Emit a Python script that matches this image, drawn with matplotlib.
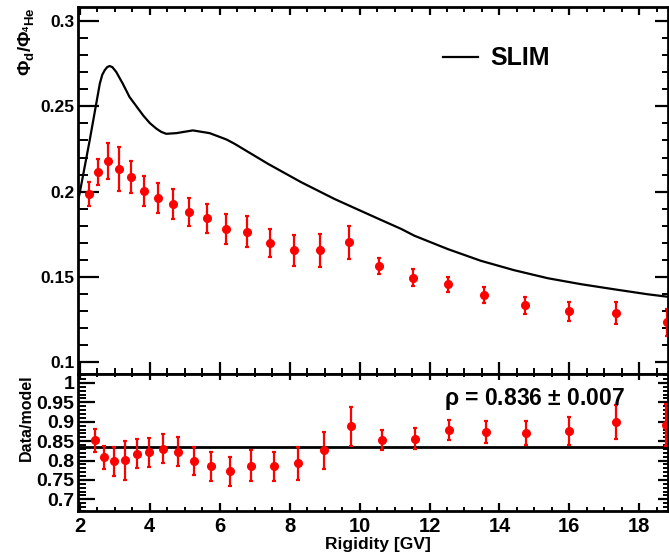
import numpy as np
import matplotlib
matplotlib.use("Agg")
import matplotlib.pyplot as plt
from matplotlib.ticker import MultipleLocator

plt.rcParams['font.family'] = ['Liberation Sans', 'DejaVu Sans']
plt.rcParams['font.weight'] = 'bold'
plt.rcParams['axes.labelweight'] = 'bold'
plt.rcParams['mathtext.fontset'] = 'custom'
plt.rcParams['mathtext.rm'] = 'Liberation Sans:bold'
plt.rcParams['mathtext.it'] = 'Liberation Sans:bold'
plt.rcParams['mathtext.bf'] = 'Liberation Sans:bold'

# d / 4He flux ratio (data points)
rig_data = [2.27, 2.53, 2.81, 3.13, 3.47, 3.84, 4.24, 4.67, 5.13, 5.64, 6.19, 6.79,
            7.44, 8.13, 8.87, 9.70, 10.56, 11.53, 12.53, 13.56, 14.73, 15.99, 17.33, 18.79]
ratio_data = [0.1984, 0.2114, 0.2180, 0.2133, 0.2084, 0.2004, 0.1963, 0.1927, 0.1880, 0.1845,
              0.1780, 0.1765, 0.1700, 0.1655, 0.1655, 0.1702, 0.1564, 0.1494, 0.1457, 0.1392,
              0.1333, 0.1298, 0.1286, 0.1233]
ratio_err = [0.0070, 0.0078, 0.0106, 0.0130, 0.0094, 0.0090, 0.0090, 0.0088, 0.0084, 0.0085,
             0.0086, 0.0090, 0.0082, 0.0090, 0.0096, 0.0098, 0.0048, 0.0050, 0.0045, 0.0046,
             0.0049, 0.0055, 0.0064, 0.0078]

# SLIM model curve
rig_model = [1.96, 1.99, 2.28, 2.57, 2.64, 2.71, 2.78, 2.85, 2.93, 3.04, 3.23, 3.42, 3.81,
             4.00, 4.19, 4.33, 4.47, 4.76, 5.23, 5.71, 6.19, 6.42, 6.90, 7.38, 8.33, 9.28,
             10.23, 10.61, 11.19, 11.57, 12.52, 13.47, 14.42, 15.38, 16.33, 17.28, 18.23, 18.86]
ratio_model = [0.1960, 0.1986, 0.2300, 0.2633, 0.2685, 0.2712, 0.2730, 0.2737, 0.2730, 0.2702,
               0.2632, 0.2555, 0.2447, 0.2402, 0.2369, 0.2350, 0.2339, 0.2343, 0.2359, 0.2343,
               0.2306, 0.2281, 0.2222, 0.2163, 0.2055, 0.1957, 0.1869, 0.1834, 0.1781, 0.1741,
               0.1663, 0.1594, 0.1539, 0.1492, 0.1457, 0.1427, 0.1398, 0.1382]

# data / model
rig_dm = [2.44, 2.69, 2.98, 3.28, 3.62, 3.99, 4.37, 4.81, 5.27, 5.76, 6.30, 6.90,
          7.56, 8.24, 8.99, 9.76, 10.64, 11.59, 12.56, 13.61, 14.76, 15.99, 17.33, 18.76]
dm = [0.852, 0.808, 0.798, 0.801, 0.818, 0.821, 0.831, 0.823, 0.798, 0.785, 0.772, 0.787,
      0.785, 0.793, 0.826, 0.888, 0.852, 0.856, 0.878, 0.874, 0.871, 0.876, 0.899, 0.892]
dm_err = [0.029, 0.030, 0.038, 0.050, 0.037, 0.037, 0.038, 0.038, 0.036, 0.037, 0.037, 0.041,
          0.038, 0.043, 0.048, 0.050, 0.026, 0.027, 0.026, 0.028, 0.031, 0.037, 0.044, 0.055]
rho, rho_err = 0.836, 0.007

XMIN, XMAX = 1.96, 18.82


def style_axis(ax, ymaj, ymin, left_len, right_len, bottom_len, top_len, ysize, xsize):
    for s in ax.spines.values():
        s.set_linewidth(2.0)
    ax.xaxis.set_major_locator(MultipleLocator(2))
    ax.xaxis.set_minor_locator(MultipleLocator(0.5))
    ax.yaxis.set_major_locator(MultipleLocator(ymaj))
    ax.yaxis.set_minor_locator(MultipleLocator(ymin))
    ax.tick_params(axis='y', which='major', direction='in', length=left_len[0], width=1.6,
                   labelsize=ysize, pad=3)
    ax.tick_params(axis='y', which='minor', direction='in', length=left_len[1], width=1.4)
    ax.tick_params(axis='x', which='major', direction='in', length=bottom_len[0], width=1.6,
                   labelsize=xsize, pad=4)
    ax.tick_params(axis='x', which='minor', direction='in', length=bottom_len[1], width=1.4)
    for lab in ax.get_xticklabels() + ax.get_yticklabels():
        lab.set_fontweight('bold')
    sy = ax.secondary_yaxis('right')
    sy.yaxis.set_major_locator(MultipleLocator(ymaj))
    sy.yaxis.set_minor_locator(MultipleLocator(ymin))
    sy.tick_params(which='major', direction='in', length=right_len[0], width=1.6, labelright=False)
    sy.tick_params(which='minor', direction='in', length=right_len[1], width=1.4)
    sx = ax.secondary_xaxis('top')
    sx.xaxis.set_major_locator(MultipleLocator(2))
    sx.xaxis.set_minor_locator(MultipleLocator(0.5))
    sx.tick_params(which='major', direction='in', length=top_len[0], width=1.6, labeltop=False)
    sx.tick_params(which='minor', direction='in', length=top_len[1], width=1.4)


fig = plt.figure(figsize=(6.69, 5.55), dpi=100)
ax1 = fig.add_axes([0.1173, 0.3261, 0.8812, 0.6604])
ax2 = fig.add_axes([0.1173, 0.0793, 0.8812, 0.2468])

fmt = plt.FuncFormatter(lambda v, p: ('%g' % round(v, 3)))

# upper panel
ax1.plot(rig_model, ratio_model, color='black', lw=1.6, label='SLIM')
ax1.errorbar(rig_data, ratio_data, yerr=ratio_err, fmt='o', color='red', ms=5.5,
             elinewidth=1.6, capsize=1.5, capthick=1.6)
ax1.set_xlim(XMIN, XMAX)
ax1.set_ylim(0.093, 0.308)
ax1.yaxis.set_major_formatter(fmt)
style_axis(ax1, 0.05, 0.01, (15, 7.5), (9.5, 4), (9, 4.5), (6, 3.5), 12.5, 12)
ax1.tick_params(axis='x', labelbottom=False)
ax1.set_ylabel(r'$\Phi_{d}/\Phi_{^{4}He}$', loc='top', fontsize=13.5, labelpad=3)
ax1.legend(loc='upper right', bbox_to_anchor=(0.838, 0.955), frameon=False,
           handlelength=1.4, handletextpad=0.5, prop={'weight': 'bold', 'size': 18})

# lower panel
ax2.axhline(rho, color='black', lw=2.0)
ax2.errorbar(rig_dm, dm, yerr=dm_err, fmt='o', color='red', ms=5.5,
             elinewidth=1.6, capsize=1.5, capthick=1.6)
ax2.set_xlim(XMIN, XMAX)
ax2.set_ylim(0.67, 1.023)
ax2.yaxis.set_major_formatter(fmt)
style_axis(ax2, 0.05, 0.01, (12, 6), (7, 3.5), (6, 3), (4, 2.5), 14, 14.5)
ax2.set_ylabel('Data/model', loc='top', fontsize=11.5, labelpad=2)
ax2.text(0.927, 0.815, r'$\rho$ = %.3f $\pm$ %.3f' % (rho, rho_err), transform=ax2.transAxes,
         ha='right', va='center', fontsize=16.5, fontweight='bold')
fig.text(378 / 669, 1 - 545 / 555, 'Rigidity [GV]', ha='center', va='center',
         fontsize=12.5, fontweight='bold')

fig.savefig('out.png', dpi=100)
